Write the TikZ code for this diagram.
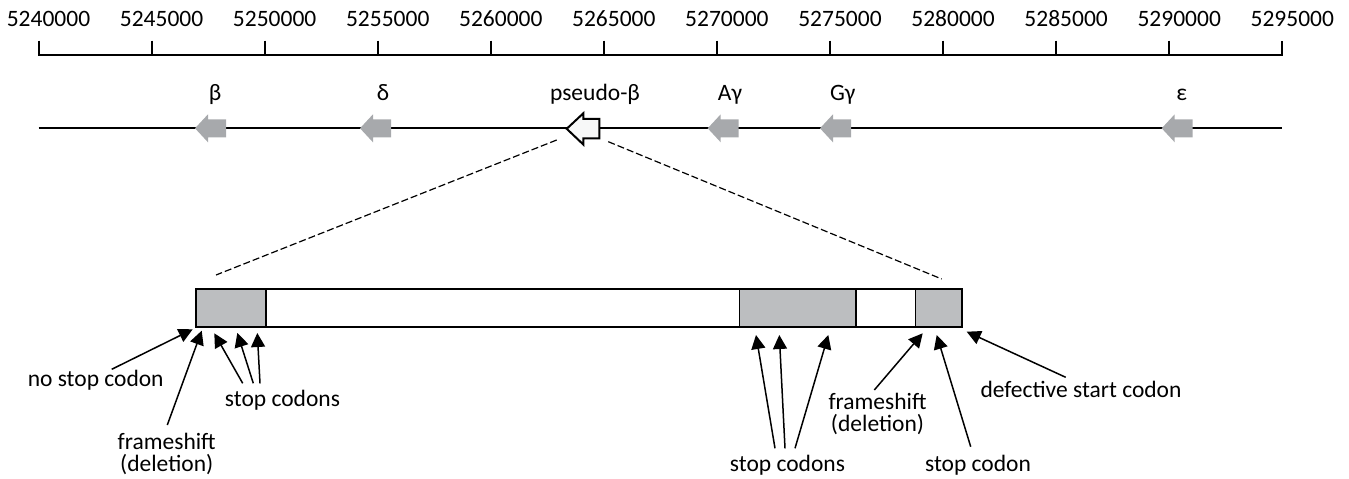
\documentclass[tikz,border=0pt]{standalone}
\usepackage{fontspec}
\setmainfont{Carlito}
\usetikzlibrary{arrows.meta}
\definecolor{genegray}{HTML}{A7A9AC}
\definecolor{boxgray}{HTML}{BCBEC0}
\definecolor{pseudofill}{HTML}{F7F8F8}
\tikzset{
  lbl/.style={anchor=base, inner sep=0pt},
  axisline/.style={line width=2pt},
  zoomline/.style={line width=1.2pt, dash pattern=on 7pt off 3pt},
  segbox/.style={line width=1.6pt},
  callout/.style={line width=1.5pt, -{Triangle[length=14pt,width=14pt]}},
}
% gray gene arrow pointing left, tip at (#1, 128.3)
\newcommand{\genearrow}[1]{%
  \fill[genegray] (#1,128.3) -- ++(13,-14) -- ++(0,5) -- ++(18,0) -- ++(0,18)
    -- ++(-18,0) -- ++(0,5) -- cycle;}
\begin{document}
\begin{tikzpicture}[x=1pt, y=-1pt, font=\fontsize{23.5}{22}\selectfont]
\useasboundingbox (0,0) rectangle (1349,479);

% coordinate ruler
\draw[axisline] (38.5,40.5) -- (38.5,55) -- (1282.3,55) -- (1282.3,40.5);
\foreach \i in {1,...,10} {
  \pgfmathsetmacro\xx{38.5+113.07*\i}
  \draw[axisline] (\xx,40.5) -- (\xx,55);
}
\foreach \i in {0,...,11} {
  \pgfmathsetmacro\xx{38.5+113.07*\i+10}
  \pgfmathtruncatemacro\lab{5240+5*\i}
  \node[lbl] (tick\i) at (\xx,27) {\lab000};
}

% gene cluster line with genes
\draw[axisline] (38.5,128.3) -- (1282.3,128.3);
\genearrow{195}
\genearrow{360}
\genearrow{707.7}
\genearrow{820}
\genearrow{1161.7}
\draw[line width=2pt, fill=pseudofill, line join=miter]
  (566.7,128.8) -- (583.3,113.3) -- (583.3,118.8) -- (599.3,118.8)
  -- (599.3,138.3) -- (583.3,138.3) -- (583.3,144.5) -- cycle;

\node[lbl] (gbeta)   at (215,100)   {β};
\node[lbl] (gdelta)  at (383,100)   {δ};
\node[lbl] (gpseudo) at (595,100)   {pseudo-β};
\node[lbl] (gagam)   at (730,100)   {Aγ};
\node[lbl] (gggam)   at (842.7,100) {Gγ};
\node[lbl] (geps)    at (1181.7,100){ε};

% zoom-in guide lines
\coordinate (zl1) at (556.7,140);
\coordinate (zl2) at (216,275);
\coordinate (zr1) at (608.3,141.7);
\coordinate (zr2) at (941.7,279);
\draw[zoomline] (zl1) -- (zl2);
\draw[zoomline] (zr1) -- (zr2);

% pseudogene structure
\draw[segbox, fill=boxgray] (195.7,289) rectangle (265.7,326.7);
\draw[segbox, fill=white]   (265.7,289) rectangle (739.3,326.7);
\draw[segbox, fill=boxgray] (739.3,289) rectangle (855.7,326.7);
\draw[segbox, fill=white]   (855.7,289) rectangle (915.3,326.7);
\draw[segbox, fill=boxgray] (915.3,289) rectangle (961.7,326.7);

% labels
\node[lbl] (nostop)  at (95.7,386)  {no stop codon};
\node[lbl] (stopL)   at (282.5,406) {stop codons};
\node[lbl] (frameL)  at (166.7,449) {frameshift};
\node[lbl] (delL)    at (166.7,471) {(deletion)};
\node[lbl] (stopM)   at (787.5,471.5) {stop codons};
\node[lbl] (frameR)  at (877.5,409) {frameshift};
\node[lbl] (delR)    at (877.5,431) {(deletion)};
\node[lbl] (stopR)   at (978,471.5) {stop codon};
\node[lbl] (defect)  at (1081,397)  {defective start codon};

% callout arrows
\coordinate (s1) at (111.7,369.3);  \coordinate (t1) at (192.7,329.3);
\coordinate (s2) at (167.3,425);    \coordinate (t2) at (201.7,330.7);
\coordinate (s3) at (242.7,383.3);  \coordinate (t3) at (214.3,333.3);
\coordinate (s4) at (253.3,383.3);  \coordinate (t4) at (237.3,333);
\coordinate (s5) at (260,383.3);    \coordinate (t5) at (257.3,333);
\coordinate (s6) at (775,448.3);    \coordinate (t6) at (756,335);
\coordinate (s7) at (785,448.3);    \coordinate (t7) at (779.3,335);
\coordinate (s8) at (795,448.3);    \coordinate (t8) at (828.3,335);
\coordinate (s9) at (874.3,390);    \coordinate (t9) at (922.7,333.3);
\coordinate (s10) at (970.7,446.7); \coordinate (t10) at (936.7,335);
\coordinate (s11) at (1065.7,377.3);\coordinate (t11) at (966.7,331.7);
\foreach \k in {1,...,11} { \draw[callout] (s\k) -- (t\k); }
\end{tikzpicture}
\end{document}
